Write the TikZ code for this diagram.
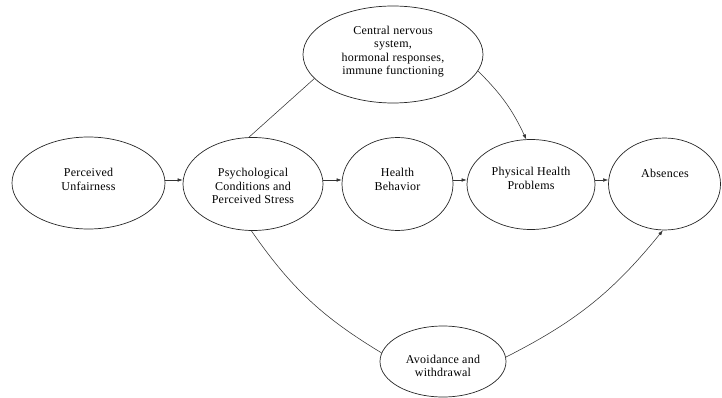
\documentclass[tikz,border=0pt]{standalone}
\usepackage{fontspec}
\setmainfont{Liberation Serif}[LetterSpace=2]
\usetikzlibrary{shapes.geometric,arrows.meta,calc}
\begin{document}
\begin{tikzpicture}[x=1pt,y=-1pt,
  ell/.style={draw=black!85,ellipse,line width=0.7pt,inner sep=0pt},
  txt/.style={align=center,font=\fontsize{12}{13.4}\selectfont,inner sep=0pt},
  conn/.style={draw=black!80,line width=0.55pt},
  arr/.style={conn,-{Latex[length=5pt,width=3.6pt]}}]
\useasboundingbox (0,0) rectangle (722,398);
% ellipses
\node[ell,minimum width=153,minimum height=92] (pu) at (88.5,183) {};
\node[ell,minimum width=140,minimum height=93] (ps) at (253,184) {};
\node[ell,minimum width=111,minimum height=93] (hb) at (397.5,184) {};
\node[ell,minimum width=128,minimum height=90] (php) at (531,184.5) {};
\node[ell,minimum width=112,minimum height=92] (ab) at (664.5,184) {};
\node[ell,minimum width=180,minimum height=97] (cn) at (393,54.5) {};
\node[ell,minimum width=126,minimum height=71] (av) at (443,361.5) {};
% texts
\node[txt] (put) at (88.5,179.5) {Perceived\\Unfairness};
\node[txt] (pst) at (253,186) {Psychological\\Conditions and\\Perceived Stress};
\node[txt] (hbt) at (397.5,179.5) {Health\\Behavior};
\node[txt] (phpt) at (531,178.5) {Physical Health\\Problems};
\node[txt] (abt) at (665,173) {Absences};
\node[txt] (cnt) at (393,51.5) {Central nervous\\system,\\hormonal responses,\\immune functioning};
\node[txt] (avt) at (443,366) {Avoidance and\\withdrawal};
% connectors
\draw[arr] (pu.east |- 0,180) -- (ps.west |- 0,180);
\draw[arr] (ps.east |- 0,180) -- (hb.west |- 0,180);
\draw[arr] (hb.east |- 0,180) -- (php.west |- 0,180);
\draw[arr] (php.east |- 0,180) -- (ab.west |- 0,180);
\draw[conn] (ps.95) -- (cn.197);
\draw[arr] (cn.349) to[bend left=10] (php.96);
\draw[conn] (ps.268) to[bend right=12] (av.172);
\draw[arr] (av.4) to[bend right=12] (ab.268);
\end{tikzpicture}
\end{document}
